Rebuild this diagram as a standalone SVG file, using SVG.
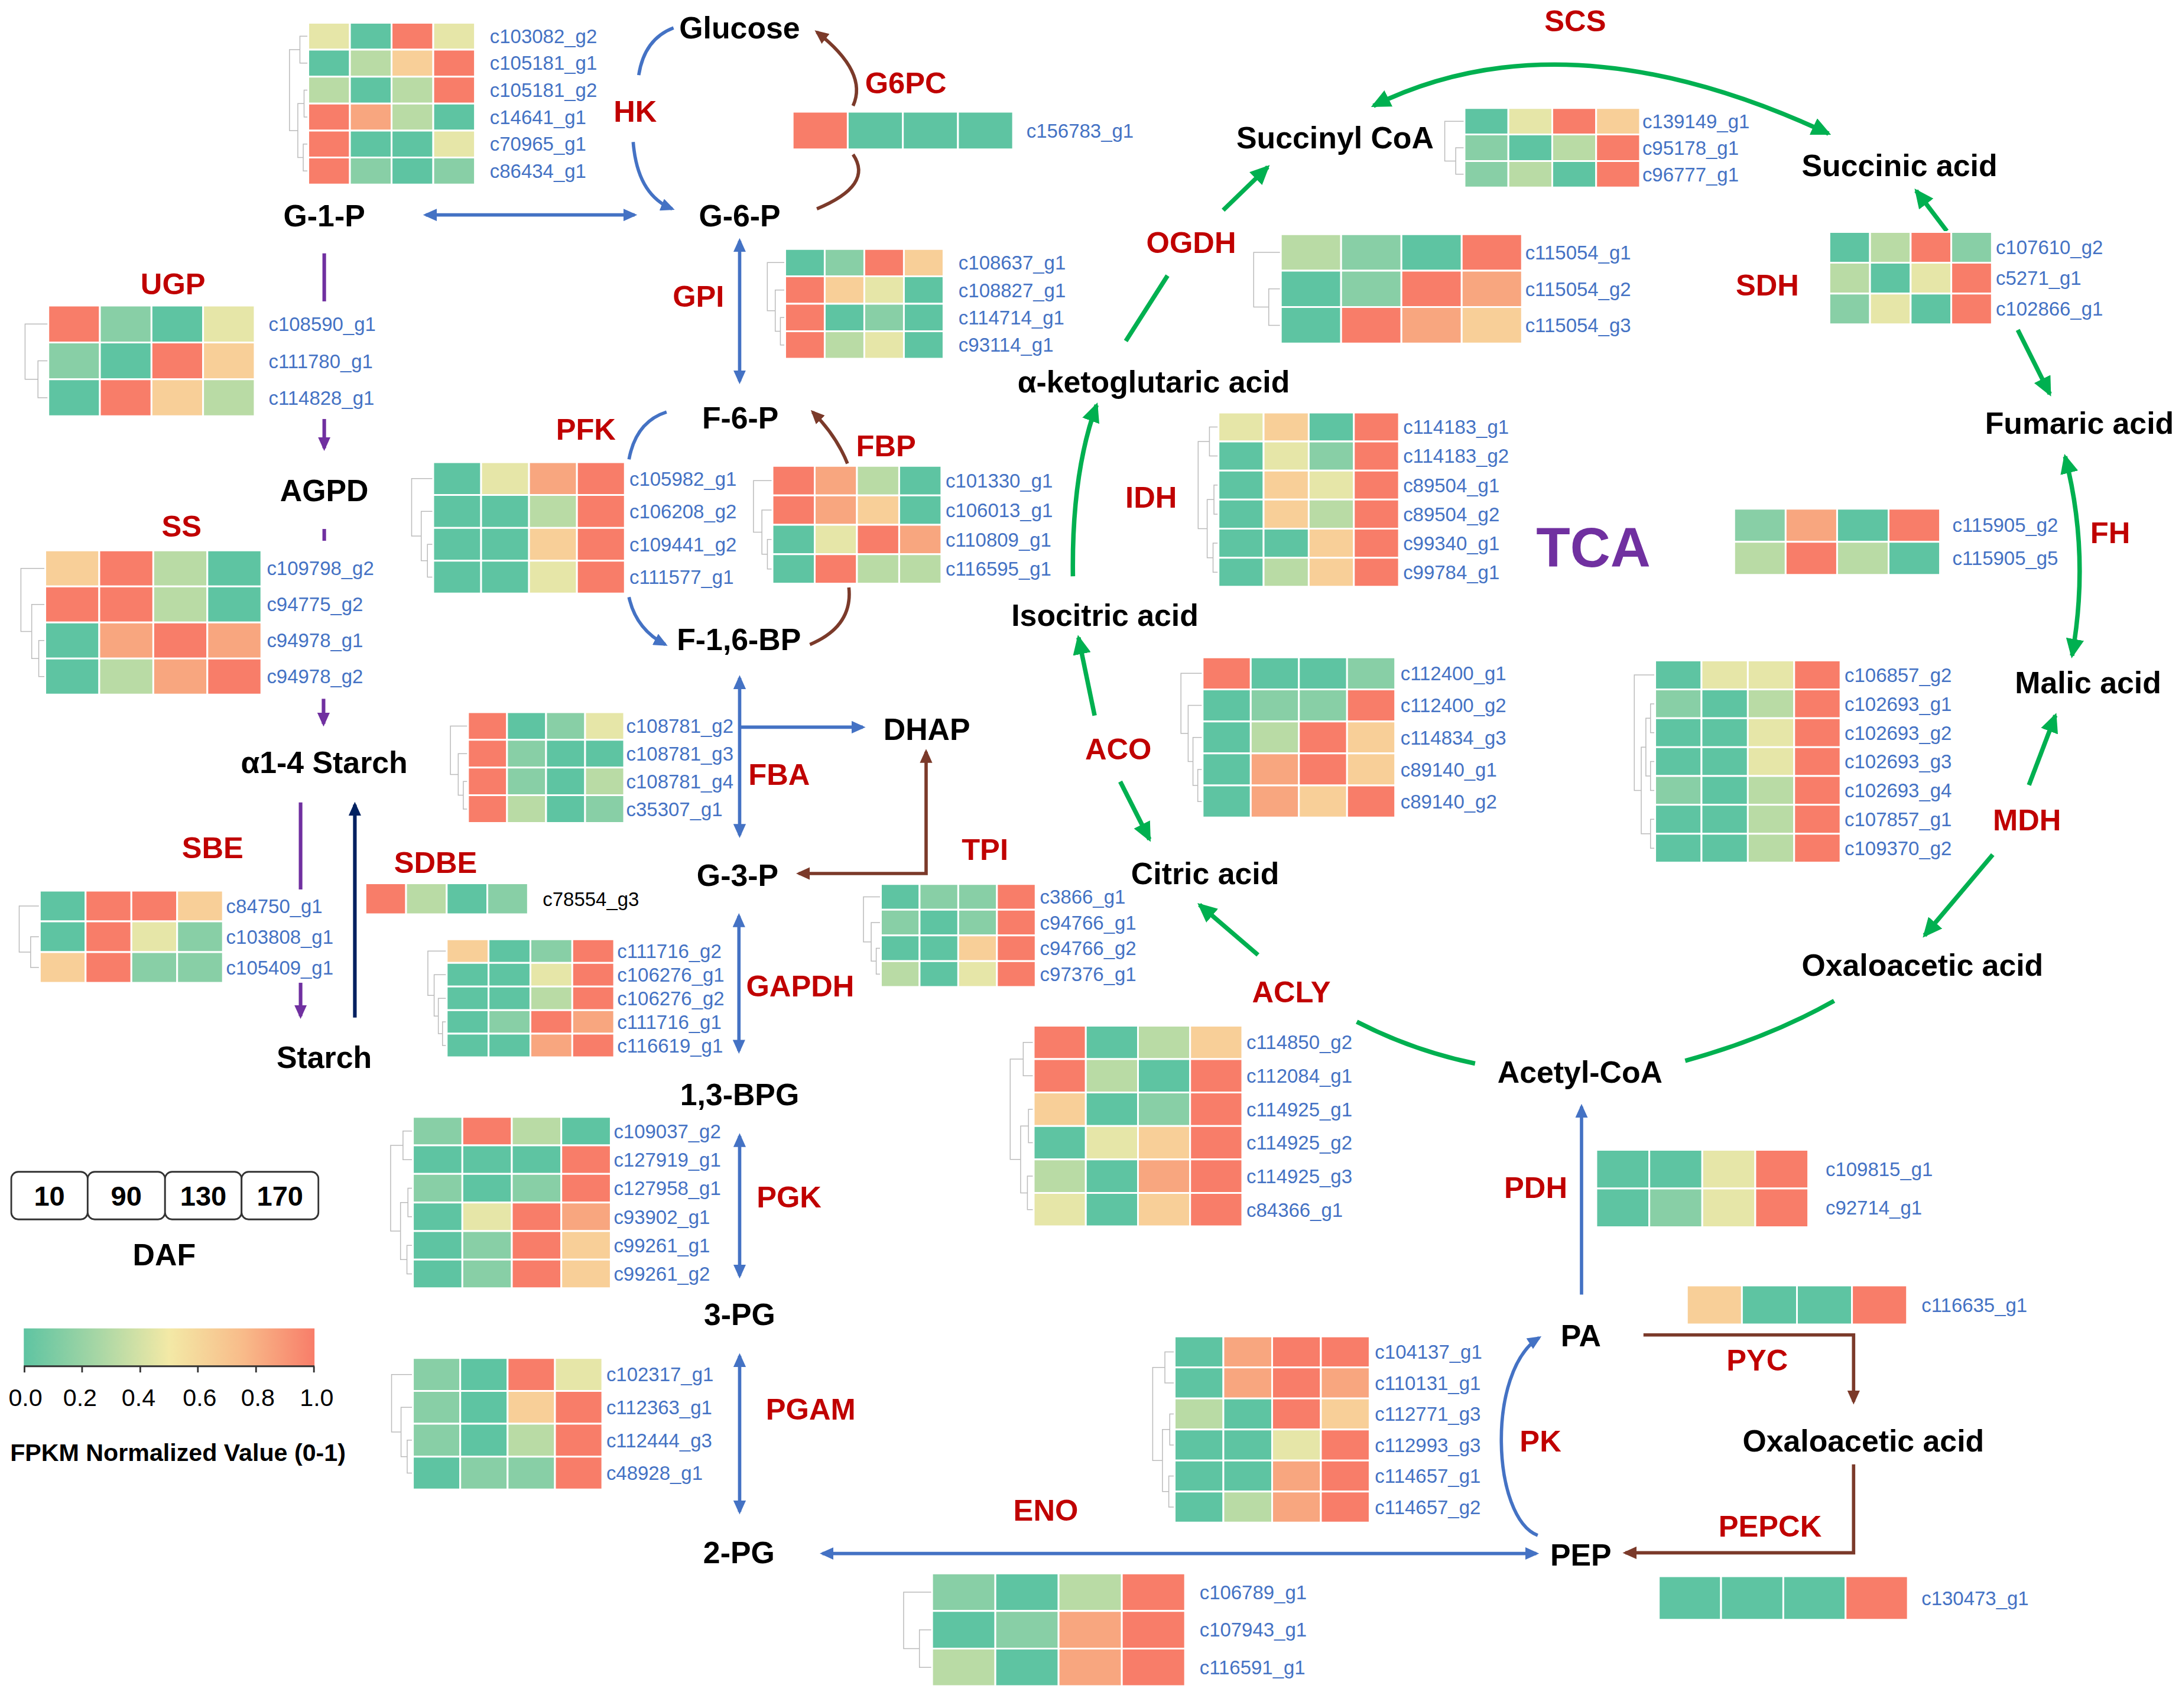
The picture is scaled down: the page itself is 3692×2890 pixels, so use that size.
<svg xmlns="http://www.w3.org/2000/svg" xmlns:xlink="http://www.w3.org/1999/xlink" width="3692" height="2890" viewBox="0 0 3692 2890">
<style>
.n{font-family:'Liberation Sans',Arial,sans-serif;font-weight:bold;font-size:22px;fill:#000;text-anchor:middle}
.e{font-family:'Liberation Sans',Arial,sans-serif;font-weight:bold;font-size:21.5px;fill:#C00000;text-anchor:middle}
.gl text{font-family:'Liberation Sans',Arial,sans-serif;font-size:14px;fill:#4472C4}
.hm rect{stroke:#fff;stroke-width:3;vector-effect:non-scaling-stroke}
.c0{fill:#5EC4A2}.c1{fill:#88CFA6}.c2{fill:#B9DBA5}.c3{fill:#E6E6A8}.c4{fill:#F8CF98}.c5{fill:#F8A67F}.c6{fill:#F87D69}
.bl{stroke:#4472C4;stroke-width:2.4;fill:none}
.br{stroke:#7B3A2A;stroke-width:2.4;fill:none}
.pu{stroke:#7030A0;stroke-width:2.6;fill:none}
.nv{stroke:#002060;stroke-width:2.6;fill:none}
.gr{stroke:#00B050;stroke-width:3.2;fill:none}
.lg{font-family:'Liberation Sans',Arial,sans-serif;fill:#000}
</style>
<defs>
<marker id="mb" viewBox="0 0 10 9" refX="8" refY="4.5" markerWidth="10" markerHeight="9" markerUnits="userSpaceOnUse" orient="auto-start-reverse"><path d="M0,0L10,4.5L0,9z" fill="#4472C4"/></marker>
<marker id="mr" viewBox="0 0 10 9" refX="8" refY="4.5" markerWidth="10" markerHeight="9" markerUnits="userSpaceOnUse" orient="auto-start-reverse"><path d="M0,0L10,4.5L0,9z" fill="#7B3A2A"/></marker>
<marker id="mp" viewBox="0 0 10 9" refX="8" refY="4.5" markerWidth="10" markerHeight="9" markerUnits="userSpaceOnUse" orient="auto-start-reverse"><path d="M0,0L10,4.5L0,9z" fill="#7030A0"/></marker>
<marker id="mn" viewBox="0 0 10 9" refX="8" refY="4.5" markerWidth="10" markerHeight="9" markerUnits="userSpaceOnUse" orient="auto-start-reverse"><path d="M0,0L10,4.5L0,9z" fill="#002060"/></marker>
<marker id="mg" viewBox="0 0 14 13" refX="12" refY="6.5" markerWidth="14" markerHeight="13" markerUnits="userSpaceOnUse" orient="auto-start-reverse"><path d="M0,0L14,6.5L0,13z" fill="#00B050"/></marker>
<linearGradient id="cb" x1="0" y1="0" x2="1" y2="0"><stop offset="0" stop-color="#5EC4A2"/><stop offset="0.25" stop-color="#A6D6A5"/><stop offset="0.5" stop-color="#F3E9A6"/><stop offset="0.75" stop-color="#F8BC8A"/><stop offset="1" stop-color="#F87D69"/></linearGradient>
<path id="d2" d="M0,0.5H-0.3V1.5H0" fill="none" stroke="#bbb" stroke-width="1.5" vector-effect="non-scaling-stroke"/>
<path id="d3" d="M0,1.5H-0.2V2.5H0M0,0.5H-0.45V2H-0.2" fill="none" stroke="#bbb" stroke-width="1.5" vector-effect="non-scaling-stroke"/>
<path id="d4" d="M0,2.5H-0.12V3.5H0M0,1.5H-0.25V3H-0.12M0,0.5H-0.45V2.25H-0.25" fill="none" stroke="#bbb" stroke-width="1.5" vector-effect="non-scaling-stroke"/>
<path id="d5" d="M0,3.5H-0.1V4.5H0M0,2.5H-0.2V4H-0.1M0,1.5H-0.3V3.25H-0.2M0,0.5H-0.45V2.375H-0.3" fill="none" stroke="#bbb" stroke-width="1.5" vector-effect="non-scaling-stroke"/>
<path id="d6" d="M0,0.5H-0.2V1.5H0M0,2.5H-0.1V3.5H0M0,4.5H-0.12V5.5H0M-0.1,3H-0.25V5H-0.12M-0.2,1H-0.45V4H-0.25" fill="none" stroke="#bbb" stroke-width="1.5" vector-effect="non-scaling-stroke"/>
<path id="d7" d="M0,1.5H-0.1V2.5H0M0,3.5H-0.1V4.5H0M0,5.5H-0.1V6.5H0M-0.1,2H-0.2V4H-0.1M-0.1,6H-0.3V3H-0.2M0,0.5H-0.45V4.5H-0.3" fill="none" stroke="#bbb" stroke-width="1.5" vector-effect="non-scaling-stroke"/>
</defs>
<rect width="3692" height="2890" fill="#fff"/>
<g transform="scale(2.354592,2.355338)">

<g id="connectors">
<path class="bl" d="M306,154.4H456" marker-start="url(#mb)" marker-end="url(#mb)"/>
<path class="bl" d="M484,20Q463,28 459,54"/>
<path class="bl" d="M455,102Q458,140 483,150" marker-end="url(#mb)"/>
<path class="bl" d="M531.5,173V274" marker-start="url(#mb)" marker-end="url(#mb)"/>
<path class="bl" d="M479,296Q457,303 452,330"/>
<path class="bl" d="M452,429Q457,452 478,463" marker-end="url(#mb)"/>
<path class="bl" d="M531.5,487V600" marker-start="url(#mb)" marker-end="url(#mb)"/>
<path class="bl" d="M531.5,522.4H620" marker-end="url(#mb)"/>
<path class="bl" d="M531,658V755" marker-start="url(#mb)" marker-end="url(#mb)"/>
<path class="bl" d="M531.5,816V916.5" marker-start="url(#mb)" marker-end="url(#mb)"/>
<path class="bl" d="M531.5,974V1086" marker-start="url(#mb)" marker-end="url(#mb)"/>
<path class="bl" d="M591,1116H1104" marker-start="url(#mb)" marker-end="url(#mb)"/>
<path class="bl" d="M1105,1103C1072,1090 1068,985 1106,961" marker-end="url(#mb)"/>
<path class="bl" d="M1136.5,930V795" marker-end="url(#mb)"/>
<path class="br" d="M613,76Q624,52 587,23" marker-end="url(#mr)"/>
<path class="br" d="M613,111Q628,133 587,150"/>
<path class="br" d="M609,333Q601,313 584,296" marker-end="url(#mr)"/>
<path class="br" d="M610,422Q613,450 582,463"/>
<path class="br" d="M665.5,540V627.5H574" marker-start="url(#mr)" marker-end="url(#mr)"/>
<path class="br" d="M1181,959H1332V1007" marker-end="url(#mr)"/>
<path class="br" d="M1332,1052V1115.5H1168" marker-end="url(#mr)"/>
<path class="pu" d="M233,182V216.5"/>
<path class="pu" d="M233,301V322" marker-end="url(#mp)"/>
<path class="pu" d="M233,380V388.5"/>
<path class="pu" d="M232.5,502V520" marker-end="url(#mp)"/>
<path class="pu" d="M216,576.5V639"/>
<path class="pu" d="M216,706V730" marker-end="url(#mp)"/>
<path class="nv" d="M255,731V578" marker-end="url(#mn)"/>
<path class="gr" d="M987,76Q1125,8 1314,96" marker-start="url(#mg)" marker-end="url(#mg)"/>
<path class="gr" d="M809,245L839,198"/>
<path class="gr" d="M879,151L911,120" marker-end="url(#mg)"/>
<path class="gr" d="M1399,166L1377,137" marker-end="url(#mg)"/>
<path class="gr" d="M1450,237L1473,283" marker-end="url(#mg)"/>
<path class="gr" d="M1484,328Q1502,398 1489,471" marker-start="url(#mg)" marker-end="url(#mg)"/>
<path class="gr" d="M1458,564L1477,514" marker-end="url(#mg)"/>
<path class="gr" d="M1432,614L1383,672" marker-end="url(#mg)"/>
<path class="gr" d="M771,414Q770,340 788,291" marker-end="url(#mg)"/>
<path class="gr" d="M786.6,514L775,458" marker-end="url(#mg)"/>
<path class="gr" d="M805,561.5L826,603" marker-end="url(#mg)"/>
<path class="gr" d="M904,686L862,650" marker-end="url(#mg)"/>
<path class="gr" d="M975,734Q1016,755 1060,764"/>
<path class="gr" d="M1318,719Q1270,746 1211,762"/>
</g>

<g id="nodes">
<text id="n-glucose" class="n" x="531.5" y="27.5">Glucose</text>
<text id="n-g6p" class="n" x="531.5" y="162.5">G-6-P</text>
<text id="n-g1p" class="n" x="233" y="162.5">G-1-P</text>
<text id="n-f6p" class="n" x="532" y="308">F-6-P</text>
<text id="n-f16bp" class="n" x="531" y="467">F-1,6-BP</text>
<text id="n-dhap" class="n" x="666" y="531.5">DHAP</text>
<text id="n-g3p" class="n" x="530" y="636.5">G-3-P</text>
<text id="n-13bpg" class="n" x="531.5" y="794">1,3-BPG</text>
<text id="n-3pg" class="n" x="531.5" y="952">3-PG</text>
<text id="n-2pg" class="n" x="531" y="1123">2-PG</text>
<text id="n-agpd" class="n" x="233" y="360">AGPD</text>
<text id="n-a14" class="n" x="233" y="555.5">α1-4 Starch</text>
<text id="n-starch" class="n" x="233" y="767">Starch</text>
<text id="n-succoa" class="n" x="959.4" y="106.6">Succinyl CoA</text>
<text id="n-succ" class="n" x="1365" y="126.6">Succinic acid</text>
<text id="n-fum" class="n" x="1494.3" y="311.7">Fumaric acid</text>
<text id="n-mal" class="n" x="1500.5" y="498">Malic acid</text>
<text id="n-oaa1" class="n" x="1381.5" y="701">Oxaloacetic acid</text>
<text id="n-acoa" class="n" x="1135.4" y="778">Acetyl-CoA</text>
<text id="n-pa" class="n" x="1136" y="967">PA</text>
<text id="n-pep" class="n" x="1136" y="1124.6">PEP</text>
<text id="n-oaa2" class="n" x="1339" y="1042.7">Oxaloacetic acid</text>
<text id="n-cit" class="n" x="866" y="635">Citric acid</text>
<text id="n-icit" class="n" x="794" y="449.8">Isocitric acid</text>
<text id="n-akg" class="n" x="829" y="282">α-ketoglutaric acid</text>
<text id="n-tca" class="n" x="1145" y="407.3" style="font-size:40px;fill:#7030A0">TCA</text>
</g>

<g id="enzymes">
<text class="e" x="456.5" y="87.4">HK</text>
<text class="e" x="650.9" y="67">G6PC</text>
<text class="e" x="124.3" y="211.3">UGP</text>
<text class="e" x="501.9" y="220.5">GPI</text>
<text class="e" x="421" y="316">PFK</text>
<text class="e" x="636.7" y="327.9">FBP</text>
<text class="e" x="130.5" y="385.6">SS</text>
<text class="e" x="559.9" y="563.8">FBA</text>
<text class="e" x="152.8" y="616.6">SBE</text>
<text class="e" x="313" y="627">SDBE</text>
<text class="e" x="707.8" y="617.9">TPI</text>
<text class="e" x="575" y="716">GAPDH</text>
<text class="e" x="567" y="867.2">PGK</text>
<text class="e" x="582.6" y="1019.8">PGAM</text>
<text class="e" x="751.5" y="1092.6">ENO</text>
<text class="e" x="1107" y="1042.7">PK</text>
<text class="e" x="1103.6" y="860.6">PDH</text>
<text class="e" x="1262.8" y="984.7">PYC</text>
<text class="e" x="1272" y="1104">PEPCK</text>
<text class="e" x="928" y="719.9">ACLY</text>
<text class="e" x="803.6" y="545.4">ACO</text>
<text class="e" x="827.2" y="364.7">IDH</text>
<text class="e" x="856" y="181.8">OGDH</text>
<text class="e" x="1132" y="22.5">SCS</text>
<text class="e" x="1270" y="212.3">SDH</text>
<text class="e" x="1516.4" y="390">FH</text>
<text class="e" x="1456.6" y="596.5">MDH</text>
</g>

<g id="hm-hk" class="hm">
<g transform="translate(221.5,16.3) scale(29.95,19.37)"><use href="#d6"/>
<rect x="0" y="0" width="1" height="1" class="c3"/><rect x="1" y="0" width="1" height="1" class="c0"/><rect x="2" y="0" width="1" height="1" class="c6"/><rect x="3" y="0" width="1" height="1" class="c3"/>
<rect x="0" y="1" width="1" height="1" class="c0"/><rect x="1" y="1" width="1" height="1" class="c2"/><rect x="2" y="1" width="1" height="1" class="c4"/><rect x="3" y="1" width="1" height="1" class="c6"/>
<rect x="0" y="2" width="1" height="1" class="c2"/><rect x="1" y="2" width="1" height="1" class="c0"/><rect x="2" y="2" width="1" height="1" class="c2"/><rect x="3" y="2" width="1" height="1" class="c6"/>
<rect x="0" y="3" width="1" height="1" class="c6"/><rect x="1" y="3" width="1" height="1" class="c5"/><rect x="2" y="3" width="1" height="1" class="c2"/><rect x="3" y="3" width="1" height="1" class="c0"/>
<rect x="0" y="4" width="1" height="1" class="c6"/><rect x="1" y="4" width="1" height="1" class="c0"/><rect x="2" y="4" width="1" height="1" class="c0"/><rect x="3" y="4" width="1" height="1" class="c3"/>
<rect x="0" y="5" width="1" height="1" class="c6"/><rect x="1" y="5" width="1" height="1" class="c1"/><rect x="2" y="5" width="1" height="1" class="c0"/><rect x="3" y="5" width="1" height="1" class="c1"/>
</g>
<g class="gl" transform="translate(352,0)"><text y="31">c103082_g2</text><text y="50.3">c105181_g1</text><text y="69.7">c105181_g2</text><text y="89.1">c14641_g1</text><text y="108.4">c70965_g1</text><text y="127.8">c86434_g1</text></g>
</g>

<g id="hm-g6pc" class="hm">
<g transform="translate(569.6,80.2) scale(39.6,27.1)">
<rect x="0" y="0" width="1" height="1" class="c6"/><rect x="1" y="0" width="1" height="1" class="c0"/><rect x="2" y="0" width="1" height="1" class="c0"/><rect x="3" y="0" width="1" height="1" class="c0"/>
</g>
<g class="gl" transform="translate(737.6,0)"><text y="98.8">c156783_g1</text></g>
</g>

<g id="hm-ugp" class="hm">
<g transform="translate(34.7,219.5) scale(37.08,26.5)"><use href="#d3"/>
<rect x="0" y="0" width="1" height="1" class="c6"/><rect x="1" y="0" width="1" height="1" class="c1"/><rect x="2" y="0" width="1" height="1" class="c0"/><rect x="3" y="0" width="1" height="1" class="c3"/>
<rect x="0" y="1" width="1" height="1" class="c1"/><rect x="1" y="1" width="1" height="1" class="c0"/><rect x="2" y="1" width="1" height="1" class="c6"/><rect x="3" y="1" width="1" height="1" class="c4"/>
<rect x="0" y="2" width="1" height="1" class="c0"/><rect x="1" y="2" width="1" height="1" class="c6"/><rect x="2" y="2" width="1" height="1" class="c4"/><rect x="3" y="2" width="1" height="1" class="c2"/>
</g>
<g class="gl" transform="translate(193,0)"><text y="237.8">c108590_g1</text><text y="264.3">c111780_g1</text><text y="290.8">c114828_g1</text></g>
</g>

<g id="hm-gpi" class="hm">
<g transform="translate(564.2,178.8) scale(28.45,19.72)"><use href="#d4"/>
<rect x="0" y="0" width="1" height="1" class="c0"/><rect x="1" y="0" width="1" height="1" class="c1"/><rect x="2" y="0" width="1" height="1" class="c6"/><rect x="3" y="0" width="1" height="1" class="c4"/>
<rect x="0" y="1" width="1" height="1" class="c6"/><rect x="1" y="1" width="1" height="1" class="c4"/><rect x="2" y="1" width="1" height="1" class="c3"/><rect x="3" y="1" width="1" height="1" class="c0"/>
<rect x="0" y="2" width="1" height="1" class="c6"/><rect x="1" y="2" width="1" height="1" class="c0"/><rect x="2" y="2" width="1" height="1" class="c1"/><rect x="3" y="2" width="1" height="1" class="c0"/>
<rect x="0" y="3" width="1" height="1" class="c6"/><rect x="1" y="3" width="1" height="1" class="c2"/><rect x="2" y="3" width="1" height="1" class="c3"/><rect x="3" y="3" width="1" height="1" class="c0"/>
</g>
<g class="gl" transform="translate(688.8,0)"><text y="193.7">c108637_g1</text><text y="213.4">c108827_g1</text><text y="233.1">c114714_g1</text><text y="252.8">c93114_g1</text></g>
</g>

<g id="hm-pfk" class="hm">
<g transform="translate(311.3,332) scale(34.43,23.6)"><use href="#d4"/>
<rect x="0" y="0" width="1" height="1" class="c0"/><rect x="1" y="0" width="1" height="1" class="c3"/><rect x="2" y="0" width="1" height="1" class="c5"/><rect x="3" y="0" width="1" height="1" class="c6"/>
<rect x="0" y="1" width="1" height="1" class="c0"/><rect x="1" y="1" width="1" height="1" class="c0"/><rect x="2" y="1" width="1" height="1" class="c2"/><rect x="3" y="1" width="1" height="1" class="c6"/>
<rect x="0" y="2" width="1" height="1" class="c0"/><rect x="1" y="2" width="1" height="1" class="c0"/><rect x="2" y="2" width="1" height="1" class="c4"/><rect x="3" y="2" width="1" height="1" class="c6"/>
<rect x="0" y="3" width="1" height="1" class="c0"/><rect x="1" y="3" width="1" height="1" class="c0"/><rect x="2" y="3" width="1" height="1" class="c3"/><rect x="3" y="3" width="1" height="1" class="c6"/>
</g>
<g class="gl" transform="translate(452.3,0)"><text y="348.8">c105982_g1</text><text y="372.4">c106208_g2</text><text y="396">c109441_g2</text><text y="419.6">c111577_g1</text></g>
</g>

<g id="hm-fbp" class="hm">
<g transform="translate(555.1,334.7) scale(30.35,21.15)"><use href="#d4"/>
<rect x="0" y="0" width="1" height="1" class="c6"/><rect x="1" y="0" width="1" height="1" class="c5"/><rect x="2" y="0" width="1" height="1" class="c2"/><rect x="3" y="0" width="1" height="1" class="c0"/>
<rect x="0" y="1" width="1" height="1" class="c6"/><rect x="1" y="1" width="1" height="1" class="c5"/><rect x="2" y="1" width="1" height="1" class="c4"/><rect x="3" y="1" width="1" height="1" class="c0"/>
<rect x="0" y="2" width="1" height="1" class="c0"/><rect x="1" y="2" width="1" height="1" class="c3"/><rect x="2" y="2" width="1" height="1" class="c6"/><rect x="3" y="2" width="1" height="1" class="c5"/>
<rect x="0" y="3" width="1" height="1" class="c0"/><rect x="1" y="3" width="1" height="1" class="c6"/><rect x="2" y="3" width="1" height="1" class="c2"/><rect x="3" y="3" width="1" height="1" class="c2"/>
</g>
<g class="gl" transform="translate(679.5,0)"><text y="350.3">c101330_g1</text><text y="371.4">c106013_g1</text><text y="392.6">c110809_g1</text><text y="413.7">c116595_g1</text></g>
</g>

<g id="hm-ss" class="hm">
<g transform="translate(32.5,395.4) scale(38.83,25.88)"><use href="#d4"/>
<rect x="0" y="0" width="1" height="1" class="c4"/><rect x="1" y="0" width="1" height="1" class="c6"/><rect x="2" y="0" width="1" height="1" class="c2"/><rect x="3" y="0" width="1" height="1" class="c0"/>
<rect x="0" y="1" width="1" height="1" class="c6"/><rect x="1" y="1" width="1" height="1" class="c6"/><rect x="2" y="1" width="1" height="1" class="c2"/><rect x="3" y="1" width="1" height="1" class="c0"/>
<rect x="0" y="2" width="1" height="1" class="c0"/><rect x="1" y="2" width="1" height="1" class="c5"/><rect x="2" y="2" width="1" height="1" class="c6"/><rect x="3" y="2" width="1" height="1" class="c5"/>
<rect x="0" y="3" width="1" height="1" class="c0"/><rect x="1" y="3" width="1" height="1" class="c2"/><rect x="2" y="3" width="1" height="1" class="c5"/><rect x="3" y="3" width="1" height="1" class="c6"/>
</g>
<g class="gl" transform="translate(191.7,0)"><text y="413.3">c109798_g2</text><text y="439.2">c94775_g2</text><text y="465.1">c94978_g1</text><text y="491">c94978_g2</text></g>
</g>

<g id="hm-fba" class="hm">
<g transform="translate(336.3,511.6) scale(28.05,19.9)"><use href="#d4"/>
<rect x="0" y="0" width="1" height="1" class="c6"/><rect x="1" y="0" width="1" height="1" class="c0"/><rect x="2" y="0" width="1" height="1" class="c1"/><rect x="3" y="0" width="1" height="1" class="c3"/>
<rect x="0" y="1" width="1" height="1" class="c6"/><rect x="1" y="1" width="1" height="1" class="c1"/><rect x="2" y="1" width="1" height="1" class="c0"/><rect x="3" y="1" width="1" height="1" class="c0"/>
<rect x="0" y="2" width="1" height="1" class="c6"/><rect x="1" y="2" width="1" height="1" class="c1"/><rect x="2" y="2" width="1" height="1" class="c0"/><rect x="3" y="2" width="1" height="1" class="c2"/>
<rect x="0" y="3" width="1" height="1" class="c6"/><rect x="1" y="3" width="1" height="1" class="c2"/><rect x="2" y="3" width="1" height="1" class="c0"/><rect x="3" y="3" width="1" height="1" class="c1"/>
</g>
<g class="gl" transform="translate(450,0)"><text y="526.6">c108781_g2</text><text y="546.5">c108781_g3</text><text y="566.4">c108781_g4</text><text y="586.3">c35307_g1</text></g>
</g>

<g id="hm-sbe" class="hm">
<g transform="translate(28.6,639.8) scale(32.9,22.07)"><use href="#d3"/>
<rect x="0" y="0" width="1" height="1" class="c0"/><rect x="1" y="0" width="1" height="1" class="c6"/><rect x="2" y="0" width="1" height="1" class="c6"/><rect x="3" y="0" width="1" height="1" class="c4"/>
<rect x="0" y="1" width="1" height="1" class="c0"/><rect x="1" y="1" width="1" height="1" class="c6"/><rect x="2" y="1" width="1" height="1" class="c3"/><rect x="3" y="1" width="1" height="1" class="c1"/>
<rect x="0" y="2" width="1" height="1" class="c4"/><rect x="1" y="2" width="1" height="1" class="c6"/><rect x="2" y="2" width="1" height="1" class="c1"/><rect x="3" y="2" width="1" height="1" class="c1"/>
</g>
<g class="gl" transform="translate(162.5,0)"><text y="655.8">c84750_g1</text><text y="677.9">c103808_g1</text><text y="700">c105409_g1</text></g>
</g>

<g id="hm-sdbe" class="hm">
<g transform="translate(262.6,634.5) scale(29.2,22.3)">
<rect x="0" y="0" width="1" height="1" class="c6"/><rect x="1" y="0" width="1" height="1" class="c2"/><rect x="2" y="0" width="1" height="1" class="c0"/><rect x="3" y="0" width="1" height="1" class="c1"/>
</g>
<g class="gl" transform="translate(390,0)"><text y="650.7" style="fill:#000">c78554_g3</text></g>
</g>

<g id="hm-gapdh" class="hm">
<g transform="translate(321,674.7) scale(30.08,16.98)"><use href="#d5"/>
<rect x="0" y="0" width="1" height="1" class="c4"/><rect x="1" y="0" width="1" height="1" class="c0"/><rect x="2" y="0" width="1" height="1" class="c1"/><rect x="3" y="0" width="1" height="1" class="c6"/>
<rect x="0" y="1" width="1" height="1" class="c0"/><rect x="1" y="1" width="1" height="1" class="c0"/><rect x="2" y="1" width="1" height="1" class="c3"/><rect x="3" y="1" width="1" height="1" class="c6"/>
<rect x="0" y="2" width="1" height="1" class="c0"/><rect x="1" y="2" width="1" height="1" class="c0"/><rect x="2" y="2" width="1" height="1" class="c2"/><rect x="3" y="2" width="1" height="1" class="c6"/>
<rect x="0" y="3" width="1" height="1" class="c0"/><rect x="1" y="3" width="1" height="1" class="c1"/><rect x="2" y="3" width="1" height="1" class="c6"/><rect x="3" y="3" width="1" height="1" class="c5"/>
<rect x="0" y="4" width="1" height="1" class="c0"/><rect x="1" y="4" width="1" height="1" class="c0"/><rect x="2" y="4" width="1" height="1" class="c5"/><rect x="3" y="4" width="1" height="1" class="c6"/>
</g>
<g class="gl" transform="translate(443.5,0)"><text y="688.2">c111716_g2</text><text y="705.2">c106276_g1</text><text y="722.2">c106276_g2</text><text y="739.1">c111716_g1</text><text y="756.1">c116619_g1</text></g>
</g>

<g id="hm-tpi" class="hm">
<g transform="translate(633,635) scale(27.8,18.5)"><use href="#d4"/>
<rect x="0" y="0" width="1" height="1" class="c0"/><rect x="1" y="0" width="1" height="1" class="c1"/><rect x="2" y="0" width="1" height="1" class="c1"/><rect x="3" y="0" width="1" height="1" class="c6"/>
<rect x="0" y="1" width="1" height="1" class="c1"/><rect x="1" y="1" width="1" height="1" class="c0"/><rect x="2" y="1" width="1" height="1" class="c1"/><rect x="3" y="1" width="1" height="1" class="c6"/>
<rect x="0" y="2" width="1" height="1" class="c0"/><rect x="1" y="2" width="1" height="1" class="c0"/><rect x="2" y="2" width="1" height="1" class="c4"/><rect x="3" y="2" width="1" height="1" class="c6"/>
<rect x="0" y="3" width="1" height="1" class="c2"/><rect x="1" y="3" width="1" height="1" class="c0"/><rect x="2" y="3" width="1" height="1" class="c3"/><rect x="3" y="3" width="1" height="1" class="c6"/>
</g>
<g class="gl" transform="translate(747.3,0)"><text y="649.3">c3866_g1</text><text y="667.8">c94766_g1</text><text y="686.3">c94766_g2</text><text y="704.8">c97376_g1</text></g>
</g>

<g id="hm-pgk" class="hm">
<g transform="translate(296.7,802.3) scale(35.55,20.52)"><use href="#d6"/>
<rect x="0" y="0" width="1" height="1" class="c1"/><rect x="1" y="0" width="1" height="1" class="c6"/><rect x="2" y="0" width="1" height="1" class="c2"/><rect x="3" y="0" width="1" height="1" class="c0"/>
<rect x="0" y="1" width="1" height="1" class="c0"/><rect x="1" y="1" width="1" height="1" class="c0"/><rect x="2" y="1" width="1" height="1" class="c0"/><rect x="3" y="1" width="1" height="1" class="c6"/>
<rect x="0" y="2" width="1" height="1" class="c1"/><rect x="1" y="2" width="1" height="1" class="c0"/><rect x="2" y="2" width="1" height="1" class="c1"/><rect x="3" y="2" width="1" height="1" class="c6"/>
<rect x="0" y="3" width="1" height="1" class="c0"/><rect x="1" y="3" width="1" height="1" class="c3"/><rect x="2" y="3" width="1" height="1" class="c6"/><rect x="3" y="3" width="1" height="1" class="c5"/>
<rect x="0" y="4" width="1" height="1" class="c0"/><rect x="1" y="4" width="1" height="1" class="c1"/><rect x="2" y="4" width="1" height="1" class="c6"/><rect x="3" y="4" width="1" height="1" class="c4"/>
<rect x="0" y="5" width="1" height="1" class="c0"/><rect x="1" y="5" width="1" height="1" class="c1"/><rect x="2" y="5" width="1" height="1" class="c6"/><rect x="3" y="5" width="1" height="1" class="c4"/>
</g>
<g class="gl" transform="translate(441,0)"><text y="817.6">c109037_g2</text><text y="838.1">c127919_g1</text><text y="858.6">c127958_g1</text><text y="879.1">c93902_g1</text><text y="899.6">c99261_g1</text><text y="920.2">c99261_g2</text></g>
</g>

<g id="hm-pgam" class="hm">
<g transform="translate(296.7,975.6) scale(34.03,23.6)"><use href="#d4"/>
<rect x="0" y="0" width="1" height="1" class="c1"/><rect x="1" y="0" width="1" height="1" class="c0"/><rect x="2" y="0" width="1" height="1" class="c6"/><rect x="3" y="0" width="1" height="1" class="c3"/>
<rect x="0" y="1" width="1" height="1" class="c1"/><rect x="1" y="1" width="1" height="1" class="c0"/><rect x="2" y="1" width="1" height="1" class="c4"/><rect x="3" y="1" width="1" height="1" class="c6"/>
<rect x="0" y="2" width="1" height="1" class="c1"/><rect x="1" y="2" width="1" height="1" class="c0"/><rect x="2" y="2" width="1" height="1" class="c2"/><rect x="3" y="2" width="1" height="1" class="c6"/>
<rect x="0" y="3" width="1" height="1" class="c0"/><rect x="1" y="3" width="1" height="1" class="c1"/><rect x="2" y="3" width="1" height="1" class="c1"/><rect x="3" y="3" width="1" height="1" class="c6"/>
</g>
<g class="gl" transform="translate(435.7,0)"><text y="992.4">c102317_g1</text><text y="1016">c112363_g1</text><text y="1039.6">c112444_g3</text><text y="1063.2">c48928_g1</text></g>
</g>

<g id="hm-eno" class="hm">
<g transform="translate(669.8,1130.3) scale(45.45,27)"><use href="#d3"/>
<rect x="0" y="0" width="1" height="1" class="c1"/><rect x="1" y="0" width="1" height="1" class="c0"/><rect x="2" y="0" width="1" height="1" class="c2"/><rect x="3" y="0" width="1" height="1" class="c6"/>
<rect x="0" y="1" width="1" height="1" class="c0"/><rect x="1" y="1" width="1" height="1" class="c1"/><rect x="2" y="1" width="1" height="1" class="c5"/><rect x="3" y="1" width="1" height="1" class="c6"/>
<rect x="0" y="2" width="1" height="1" class="c2"/><rect x="1" y="2" width="1" height="1" class="c0"/><rect x="2" y="2" width="1" height="1" class="c5"/><rect x="3" y="2" width="1" height="1" class="c6"/>
</g>
<g class="gl" transform="translate(862,0)"><text y="1148.8">c106789_g1</text><text y="1175.8">c107943_g1</text><text y="1202.8">c116591_g1</text></g>
</g>

<g id="hm-pk" class="hm">
<g transform="translate(844.1,960.1) scale(35.03,22.28)"><use href="#d6"/>
<rect x="0" y="0" width="1" height="1" class="c0"/><rect x="1" y="0" width="1" height="1" class="c5"/><rect x="2" y="0" width="1" height="1" class="c6"/><rect x="3" y="0" width="1" height="1" class="c6"/>
<rect x="0" y="1" width="1" height="1" class="c0"/><rect x="1" y="1" width="1" height="1" class="c5"/><rect x="2" y="1" width="1" height="1" class="c6"/><rect x="3" y="1" width="1" height="1" class="c5"/>
<rect x="0" y="2" width="1" height="1" class="c2"/><rect x="1" y="2" width="1" height="1" class="c0"/><rect x="2" y="2" width="1" height="1" class="c6"/><rect x="3" y="2" width="1" height="1" class="c4"/>
<rect x="0" y="3" width="1" height="1" class="c0"/><rect x="1" y="3" width="1" height="1" class="c0"/><rect x="2" y="3" width="1" height="1" class="c3"/><rect x="3" y="3" width="1" height="1" class="c6"/>
<rect x="0" y="4" width="1" height="1" class="c0"/><rect x="1" y="4" width="1" height="1" class="c0"/><rect x="2" y="4" width="1" height="1" class="c5"/><rect x="3" y="4" width="1" height="1" class="c6"/>
<rect x="0" y="5" width="1" height="1" class="c0"/><rect x="1" y="5" width="1" height="1" class="c2"/><rect x="2" y="5" width="1" height="1" class="c5"/><rect x="3" y="5" width="1" height="1" class="c6"/>
</g>
<g class="gl" transform="translate(988,0)"><text y="976.2">c104137_g1</text><text y="998.5">c110131_g1</text><text y="1020.8">c112771_g3</text><text y="1043.1">c112993_g3</text><text y="1065.4">c114657_g1</text><text y="1087.7">c114657_g2</text></g>
</g>

<g id="hm-acly" class="hm">
<g transform="translate(742.8,736.8) scale(37.48,24.03)"><use href="#d6"/>
<rect x="0" y="0" width="1" height="1" class="c6"/><rect x="1" y="0" width="1" height="1" class="c0"/><rect x="2" y="0" width="1" height="1" class="c2"/><rect x="3" y="0" width="1" height="1" class="c4"/>
<rect x="0" y="1" width="1" height="1" class="c6"/><rect x="1" y="1" width="1" height="1" class="c2"/><rect x="2" y="1" width="1" height="1" class="c0"/><rect x="3" y="1" width="1" height="1" class="c6"/>
<rect x="0" y="2" width="1" height="1" class="c4"/><rect x="1" y="2" width="1" height="1" class="c0"/><rect x="2" y="2" width="1" height="1" class="c1"/><rect x="3" y="2" width="1" height="1" class="c6"/>
<rect x="0" y="3" width="1" height="1" class="c0"/><rect x="1" y="3" width="1" height="1" class="c3"/><rect x="2" y="3" width="1" height="1" class="c4"/><rect x="3" y="3" width="1" height="1" class="c6"/>
<rect x="0" y="4" width="1" height="1" class="c2"/><rect x="1" y="4" width="1" height="1" class="c0"/><rect x="2" y="4" width="1" height="1" class="c5"/><rect x="3" y="4" width="1" height="1" class="c6"/>
<rect x="0" y="5" width="1" height="1" class="c3"/><rect x="1" y="5" width="1" height="1" class="c0"/><rect x="2" y="5" width="1" height="1" class="c4"/><rect x="3" y="5" width="1" height="1" class="c6"/>
</g>
<g class="gl" transform="translate(895.7,0)"><text y="753.8">c114850_g2</text><text y="777.9">c112084_g1</text><text y="801.9">c114925_g1</text><text y="825.9">c114925_g2</text><text y="849.9">c114925_g3</text><text y="874">c84366_g1</text></g>
</g>

<g id="hm-aco" class="hm">
<g transform="translate(864.2,472.2) scale(34.6,23.02)"><use href="#d5"/>
<rect x="0" y="0" width="1" height="1" class="c6"/><rect x="1" y="0" width="1" height="1" class="c0"/><rect x="2" y="0" width="1" height="1" class="c0"/><rect x="3" y="0" width="1" height="1" class="c1"/>
<rect x="0" y="1" width="1" height="1" class="c0"/><rect x="1" y="1" width="1" height="1" class="c1"/><rect x="2" y="1" width="1" height="1" class="c1"/><rect x="3" y="1" width="1" height="1" class="c6"/>
<rect x="0" y="2" width="1" height="1" class="c0"/><rect x="1" y="2" width="1" height="1" class="c2"/><rect x="2" y="2" width="1" height="1" class="c6"/><rect x="3" y="2" width="1" height="1" class="c4"/>
<rect x="0" y="3" width="1" height="1" class="c0"/><rect x="1" y="3" width="1" height="1" class="c5"/><rect x="2" y="3" width="1" height="1" class="c6"/><rect x="3" y="3" width="1" height="1" class="c4"/>
<rect x="0" y="4" width="1" height="1" class="c0"/><rect x="1" y="4" width="1" height="1" class="c5"/><rect x="2" y="4" width="1" height="1" class="c4"/><rect x="3" y="4" width="1" height="1" class="c6"/>
</g>
<g class="gl" transform="translate(1006.4,0)"><text y="488.7">c112400_g1</text><text y="511.7">c112400_g2</text><text y="534.8">c114834_g3</text><text y="557.8">c89140_g1</text><text y="580.8">c89140_g2</text></g>
</g>

<g id="hm-idh" class="hm">
<g transform="translate(875.6,296.3) scale(32.43,20.87)"><use href="#d6"/>
<rect x="0" y="0" width="1" height="1" class="c3"/><rect x="1" y="0" width="1" height="1" class="c4"/><rect x="2" y="0" width="1" height="1" class="c0"/><rect x="3" y="0" width="1" height="1" class="c6"/>
<rect x="0" y="1" width="1" height="1" class="c0"/><rect x="1" y="1" width="1" height="1" class="c3"/><rect x="2" y="1" width="1" height="1" class="c1"/><rect x="3" y="1" width="1" height="1" class="c6"/>
<rect x="0" y="2" width="1" height="1" class="c0"/><rect x="1" y="2" width="1" height="1" class="c4"/><rect x="2" y="2" width="1" height="1" class="c3"/><rect x="3" y="2" width="1" height="1" class="c6"/>
<rect x="0" y="3" width="1" height="1" class="c0"/><rect x="1" y="3" width="1" height="1" class="c4"/><rect x="2" y="3" width="1" height="1" class="c2"/><rect x="3" y="3" width="1" height="1" class="c6"/>
<rect x="0" y="4" width="1" height="1" class="c0"/><rect x="1" y="4" width="1" height="1" class="c0"/><rect x="2" y="4" width="1" height="1" class="c4"/><rect x="3" y="4" width="1" height="1" class="c6"/>
<rect x="0" y="5" width="1" height="1" class="c0"/><rect x="1" y="5" width="1" height="1" class="c2"/><rect x="2" y="5" width="1" height="1" class="c4"/><rect x="3" y="5" width="1" height="1" class="c6"/>
</g>
<g class="gl" transform="translate(1008.3,0)"><text y="311.7">c114183_g1</text><text y="332.6">c114183_g2</text><text y="353.5">c89504_g1</text><text y="374.4">c89504_g2</text><text y="395.2">c99340_g1</text><text y="416.1">c99784_g1</text></g>
</g>

<g id="hm-ogdh" class="hm">
<g transform="translate(920.4,168.2) scale(43.33,26.2)"><use href="#d3"/>
<rect x="0" y="0" width="1" height="1" class="c2"/><rect x="1" y="0" width="1" height="1" class="c1"/><rect x="2" y="0" width="1" height="1" class="c0"/><rect x="3" y="0" width="1" height="1" class="c6"/>
<rect x="0" y="1" width="1" height="1" class="c0"/><rect x="1" y="1" width="1" height="1" class="c1"/><rect x="2" y="1" width="1" height="1" class="c6"/><rect x="3" y="1" width="1" height="1" class="c5"/>
<rect x="0" y="2" width="1" height="1" class="c0"/><rect x="1" y="2" width="1" height="1" class="c6"/><rect x="2" y="2" width="1" height="1" class="c5"/><rect x="3" y="2" width="1" height="1" class="c4"/>
</g>
<g class="gl" transform="translate(1096,0)"><text y="186.3">c115054_g1</text><text y="212.5">c115054_g2</text><text y="238.7">c115054_g3</text></g>
</g>

<g id="hm-scs" class="hm">
<g transform="translate(1052.4,77.6) scale(31.53,19.03)"><use href="#d3"/>
<rect x="0" y="0" width="1" height="1" class="c0"/><rect x="1" y="0" width="1" height="1" class="c3"/><rect x="2" y="0" width="1" height="1" class="c6"/><rect x="3" y="0" width="1" height="1" class="c4"/>
<rect x="0" y="1" width="1" height="1" class="c1"/><rect x="1" y="1" width="1" height="1" class="c0"/><rect x="2" y="1" width="1" height="1" class="c2"/><rect x="3" y="1" width="1" height="1" class="c6"/>
<rect x="0" y="2" width="1" height="1" class="c1"/><rect x="1" y="2" width="1" height="1" class="c2"/><rect x="2" y="2" width="1" height="1" class="c0"/><rect x="3" y="2" width="1" height="1" class="c6"/>
</g>
<g class="gl" transform="translate(1180.2,0)"><text y="92.1">c139149_g1</text><text y="111.2">c95178_g1</text><text y="130.2">c96777_g1</text></g>
</g>

<g id="hm-sdh" class="hm">
<g transform="translate(1314.6,166.6) scale(29.2,22.13)">
<rect x="0" y="0" width="1" height="1" class="c0"/><rect x="1" y="0" width="1" height="1" class="c2"/><rect x="2" y="0" width="1" height="1" class="c6"/><rect x="3" y="0" width="1" height="1" class="c1"/>
<rect x="0" y="1" width="1" height="1" class="c2"/><rect x="1" y="1" width="1" height="1" class="c0"/><rect x="2" y="1" width="1" height="1" class="c3"/><rect x="3" y="1" width="1" height="1" class="c6"/>
<rect x="0" y="2" width="1" height="1" class="c1"/><rect x="1" y="2" width="1" height="1" class="c3"/><rect x="2" y="2" width="1" height="1" class="c0"/><rect x="3" y="2" width="1" height="1" class="c6"/>
</g>
<g class="gl" transform="translate(1434.2,0)"><text y="182.7">c107610_g2</text><text y="204.8">c5271_g1</text><text y="226.9">c102866_g1</text></g>
</g>

<g id="hm-fh" class="hm">
<g transform="translate(1246.2,365.4) scale(36.98,23.8)">
<rect x="0" y="0" width="1" height="1" class="c1"/><rect x="1" y="0" width="1" height="1" class="c5"/><rect x="2" y="0" width="1" height="1" class="c0"/><rect x="3" y="0" width="1" height="1" class="c6"/>
<rect x="0" y="1" width="1" height="1" class="c2"/><rect x="1" y="1" width="1" height="1" class="c6"/><rect x="2" y="1" width="1" height="1" class="c2"/><rect x="3" y="1" width="1" height="1" class="c0"/>
</g>
<g class="gl" transform="translate(1403,0)"><text y="382.3">c115905_g2</text><text y="406.1">c115905_g5</text></g>
</g>

<g id="hm-mdh" class="hm">
<g transform="translate(1189.4,474.5) scale(33.3,20.74)"><use href="#d7"/>
<rect x="0" y="0" width="1" height="1" class="c0"/><rect x="1" y="0" width="1" height="1" class="c3"/><rect x="2" y="0" width="1" height="1" class="c3"/><rect x="3" y="0" width="1" height="1" class="c6"/>
<rect x="0" y="1" width="1" height="1" class="c1"/><rect x="1" y="1" width="1" height="1" class="c0"/><rect x="2" y="1" width="1" height="1" class="c2"/><rect x="3" y="1" width="1" height="1" class="c6"/>
<rect x="0" y="2" width="1" height="1" class="c0"/><rect x="1" y="2" width="1" height="1" class="c0"/><rect x="2" y="2" width="1" height="1" class="c3"/><rect x="3" y="2" width="1" height="1" class="c6"/>
<rect x="0" y="3" width="1" height="1" class="c0"/><rect x="1" y="3" width="1" height="1" class="c0"/><rect x="2" y="3" width="1" height="1" class="c3"/><rect x="3" y="3" width="1" height="1" class="c6"/>
<rect x="0" y="4" width="1" height="1" class="c1"/><rect x="1" y="4" width="1" height="1" class="c0"/><rect x="2" y="4" width="1" height="1" class="c2"/><rect x="3" y="4" width="1" height="1" class="c6"/>
<rect x="0" y="5" width="1" height="1" class="c0"/><rect x="1" y="5" width="1" height="1" class="c0"/><rect x="2" y="5" width="1" height="1" class="c2"/><rect x="3" y="5" width="1" height="1" class="c6"/>
<rect x="0" y="6" width="1" height="1" class="c0"/><rect x="1" y="6" width="1" height="1" class="c0"/><rect x="2" y="6" width="1" height="1" class="c2"/><rect x="3" y="6" width="1" height="1" class="c6"/>
</g>
<g class="gl" transform="translate(1325.5,0)"><text y="489.9">c106857_g2</text><text y="510.6">c102693_g1</text><text y="531.4">c102693_g2</text><text y="552.1">c102693_g3</text><text y="572.8">c102693_g4</text><text y="593.6">c107857_g1</text><text y="614.3">c109370_g2</text></g>
</g>

<g id="hm-pdh" class="hm">
<g transform="translate(1147.1,826) scale(38.08,27.8)">
<rect x="0" y="0" width="1" height="1" class="c0"/><rect x="1" y="0" width="1" height="1" class="c0"/><rect x="2" y="0" width="1" height="1" class="c3"/><rect x="3" y="0" width="1" height="1" class="c6"/>
<rect x="0" y="1" width="1" height="1" class="c0"/><rect x="1" y="1" width="1" height="1" class="c1"/><rect x="2" y="1" width="1" height="1" class="c3"/><rect x="3" y="1" width="1" height="1" class="c6"/>
</g>
<g class="gl" transform="translate(1311.9,0)"><text y="844.9">c109815_g1</text><text y="872.7">c92714_g1</text></g>
</g>

<g id="hm-pyc" class="hm">
<g transform="translate(1212.2,923.4) scale(39.55,28.1)">
<rect x="0" y="0" width="1" height="1" class="c4"/><rect x="1" y="0" width="1" height="1" class="c0"/><rect x="2" y="0" width="1" height="1" class="c0"/><rect x="3" y="0" width="1" height="1" class="c6"/>
</g>
<g class="gl" transform="translate(1380.8,0)"><text y="942.5">c116635_g1</text></g>
</g>

<g id="hm-pepck" class="hm">
<g transform="translate(1192,1132.3) scale(44.75,31.3)">
<rect x="0" y="0" width="1" height="1" class="c0"/><rect x="1" y="0" width="1" height="1" class="c0"/><rect x="2" y="0" width="1" height="1" class="c0"/><rect x="3" y="0" width="1" height="1" class="c6"/>
</g>
<g class="gl" transform="translate(1380.8,0)"><text y="1153">c130473_g1</text></g>
</g>

<g id="legend-daf">
<rect x="8.1" y="841.8" width="54.9" height="34.2" rx="5" fill="#fff" stroke="#333" stroke-width="1.2"/>
<rect x="63" y="841.8" width="55.6" height="34.2" rx="5" fill="#fff" stroke="#333" stroke-width="1.2"/>
<rect x="118.6" y="841.8" width="55" height="34.2" rx="5" fill="#fff" stroke="#333" stroke-width="1.2"/>
<rect x="173.6" y="841.8" width="55.2" height="34.2" rx="5" fill="#fff" stroke="#333" stroke-width="1.2"/>
<text class="lg" x="35.5" y="866.3" style="font-size:20px;font-weight:bold;text-anchor:middle">10</text>
<text class="lg" x="90.8" y="866.3" style="font-size:20px;font-weight:bold;text-anchor:middle">90</text>
<text class="lg" x="146.1" y="866.3" style="font-size:20px;font-weight:bold;text-anchor:middle">130</text>
<text class="lg" x="201.2" y="866.3" style="font-size:20px;font-weight:bold;text-anchor:middle">170</text>
<text class="lg" x="118" y="909" style="font-size:22px;font-weight:bold;text-anchor:middle">DAF</text>
</g>

<g id="legend-scale">
<rect x="17.1" y="954.3" width="208.9" height="27.2" fill="url(#cb)"/>
<path d="M17.1,981.5H226M17.6,981.5V986M59,981.5V986M100.8,981.5V986M142.2,981.5V986M184,981.5V986M225.6,981.5V986" stroke="#333" stroke-width="1.2" fill="none"/>
<g class="lg" style="font-size:17.5px;text-anchor:middle">
<text x="18.3" y="1010">0.0</text><text x="57.5" y="1010">0.2</text><text x="99.6" y="1010">0.4</text><text x="143.5" y="1010">0.6</text><text x="185.3" y="1010">0.8</text><text x="227.6" y="1010">1.0</text>
</g>
<text class="lg" x="7.3" y="1049.4" style="font-size:17.5px;font-weight:bold">FPKM Normalized Value (0-1)</text>
</g>

</g>
</svg>
